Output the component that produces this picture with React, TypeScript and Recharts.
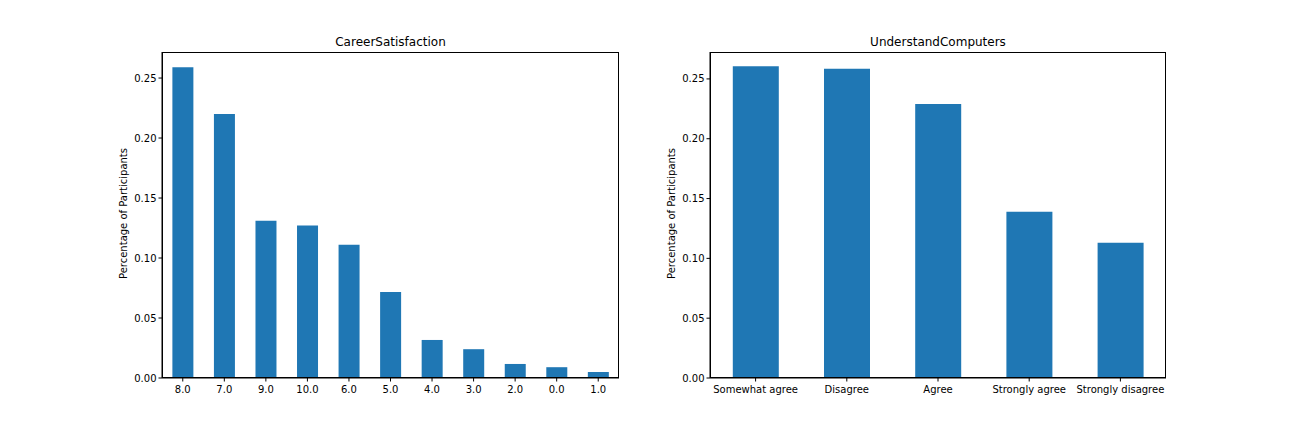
import { BarChart, Bar, XAxis, YAxis } from 'recharts'

const careerLabels = ['8.0', '7.0', '9.0', '10.0', '6.0', '5.0', '4.0', '3.0', '2.0', '0.0', '1.0']
const careerValues = [0.259, 0.22, 0.131, 0.127, 0.111, 0.0717, 0.0317, 0.024, 0.0117, 0.009, 0.005]

const computerLabels = ['Somewhat agree', 'Disagree', 'Agree', 'Strongly agree', 'Strongly disagree']
const computerValues = [0.2605, 0.2585, 0.229, 0.139, 0.113]

const yTicks = [0, 0.05, 0.1, 0.15, 0.2, 0.25]

const BLUE = '#1f77b4'
const FONT = 'DejaVu Sans, sans-serif'

// plot boxes
const panels = [
  { title: 'CareerSatisfaction', labels: careerLabels, values: careerValues, left: 162, right: 619, yMax: 0.2717 },
  { title: 'UnderstandComputers', labels: computerLabels, values: computerValues, left: 710, right: 1166, yMax: 0.2725 },
]

const TOP = 52
const BOTTOM = 378
const W = 1296
const H = 432
const Y_AXIS_W = 50
const X_AXIS_H = 30

function Panel({ p }: { p: typeof panels[number] }) {
  const data = p.labels.map((name, i) => ({ name, value: p.values[i] }))
  const plotW = p.right - p.left
  return (
    <>
      <div style={{ position: 'absolute', left: 0, top: 0 }}>
        <BarChart
          width={W}
          height={H}
          data={data}
          margin={{ top: TOP, left: p.left - Y_AXIS_W, right: W - p.right, bottom: H - BOTTOM - X_AXIS_H }}
          barCategoryGap="25%"
        >
          <XAxis
            dataKey="name"
            height={X_AXIS_H}
            interval={0}
            tickSize={3.5}
            tickMargin={4}
            axisLine={{ stroke: '#000' }}
            tickLine={{ stroke: '#000' }}
            tick={{ fill: '#000', fontSize: 10, fontFamily: FONT }}
          />
          <YAxis
            width={Y_AXIS_W}
            domain={[0, p.yMax]}
            ticks={yTicks}
            tickSize={3.5}
            tickMargin={2}
            allowDataOverflow
            tickFormatter={(v: number) => v.toFixed(2)}
            axisLine={{ stroke: '#000' }}
            tickLine={{ stroke: '#000' }}
            tick={{ fill: '#000', fontSize: 10, fontFamily: FONT }}
          />
          <Bar dataKey="value" fill={BLUE} isAnimationActive={false} />
        </BarChart>
      </div>
      {/* frame around the plot area */}
      <div
        style={{
          position: 'absolute',
          left: p.left,
          top: TOP,
          width: plotW,
          height: BOTTOM - TOP,
          border: '1px solid #000',
          boxSizing: 'border-box',
          pointerEvents: 'none',
        }}
      />
      <div
        style={{
          position: 'absolute',
          left: p.left,
          width: plotW,
          top: 35,
          textAlign: 'center',
          fontSize: 12,
          fontFamily: FONT,
          color: '#000',
        }}
      >
        {p.title}
      </div>
      <div
        style={{
          position: 'absolute',
          left: p.left - 39 - 100,
          top: (TOP + BOTTOM) / 2 - 7,
          width: 200,
          textAlign: 'center',
          transform: 'rotate(-90deg)',
          fontSize: 10,
          fontFamily: FONT,
          color: '#000',
        }}
      >
        Percentage of Participants
      </div>
    </>
  )
}

export default function App() {
  return (
    <div style={{ position: 'absolute', left: 0, top: 0, width: W, height: H, background: '#fff' }}>
      {panels.map((p) => (
        <Panel key={p.title} p={p} />
      ))}
    </div>
  )
}
